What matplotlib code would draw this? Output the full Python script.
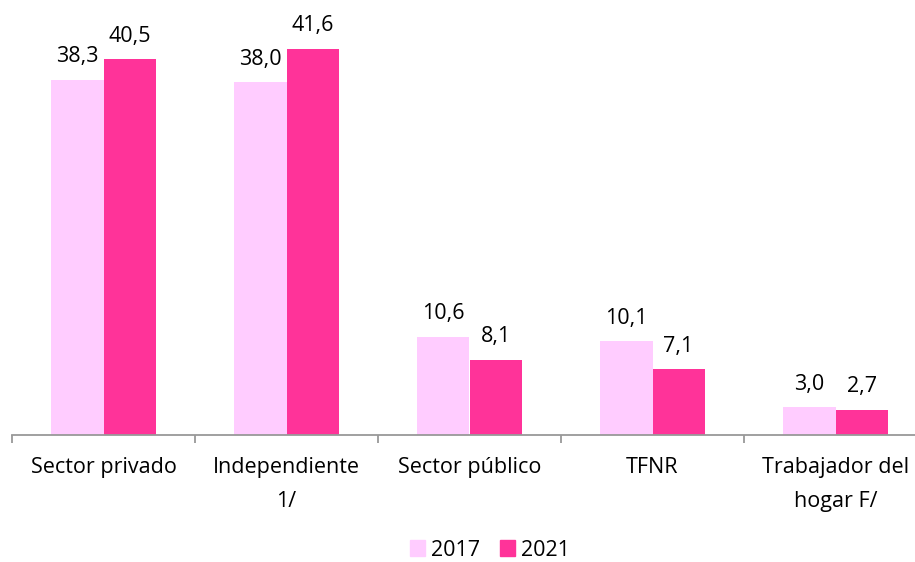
import matplotlib

matplotlib.use("Agg")
import matplotlib.pyplot as plt
import numpy as np
from matplotlib.patches import Patch

categories = ["Sector privado", "Independiente\n1/", "Sector público", "TFNR",
              "Trabajador del\nhogar F/"]
v2017 = [38.3, 38.0, 10.6, 10.1, 3.0]
v2021 = [40.5, 41.6, 8.1, 7.1, 2.7]
years = ["2017", "2021"]
COL = {"2017": "#FFCCFF", "2021": "#FF3399"}

plt.rcParams["font.family"] = ["Open Sans", "DejaVu Sans"]
FS = 15.5

fig = plt.figure(figsize=(9.15, 5.62), dpi=100)
# axis runs a little past the right edge, as in the source image
ax = fig.add_axes([12 / 915, 127 / 562, 915 / 915, 417.6 / 562])

x = np.arange(len(categories))
w = 0.285
b1 = ax.bar(x - w / 2, v2017, w, color=COL["2017"])
b2 = ax.bar(x + w / 2, v2021, w, color=COL["2021"])
for bars, vals in ((b1, v2017), (b2, v2021)):
    for b, v in zip(bars, vals):
        ax.annotate(f"{v:.1f}".replace(".", ","),
                    (b.get_x() + b.get_width() / 2, v),
                    xytext=(0, 9), textcoords="offset points",
                    ha="center", va="bottom", fontsize=FS)

ax.set_xlim(-0.5, len(categories) - 0.5)
ax.set_ylim(0, 45)
ax.set_yticks([])
ax.set_xticks(x)
ax.set_xticklabels(categories, fontsize=FS, linespacing=1.8, va="top")
ax.set_xticks(np.arange(len(categories) + 1) - 0.5, minor=True)
ax.tick_params(axis="x", which="major", length=0, pad=16)
ax.tick_params(axis="x", which="minor", length=6, width=1.3, color="#999999")
for s in ("top", "right", "left"):
    ax.spines[s].set_visible(False)
ax.spines["bottom"].set_color("#999999")
ax.spines["bottom"].set_linewidth(1.3)

handles = [Patch(color=COL[y], label=y) for y in years]
fig.legend(handles=handles, loc="center", bbox_to_anchor=(490 / 915, 1 - 550 / 562),
           ncol=2, frameon=False, fontsize=FS, handlelength=0.7, handleheight=0.7,
           handletextpad=0.3, columnspacing=0.9, borderpad=0)

fig.savefig("out.png", dpi=100, facecolor="white")
